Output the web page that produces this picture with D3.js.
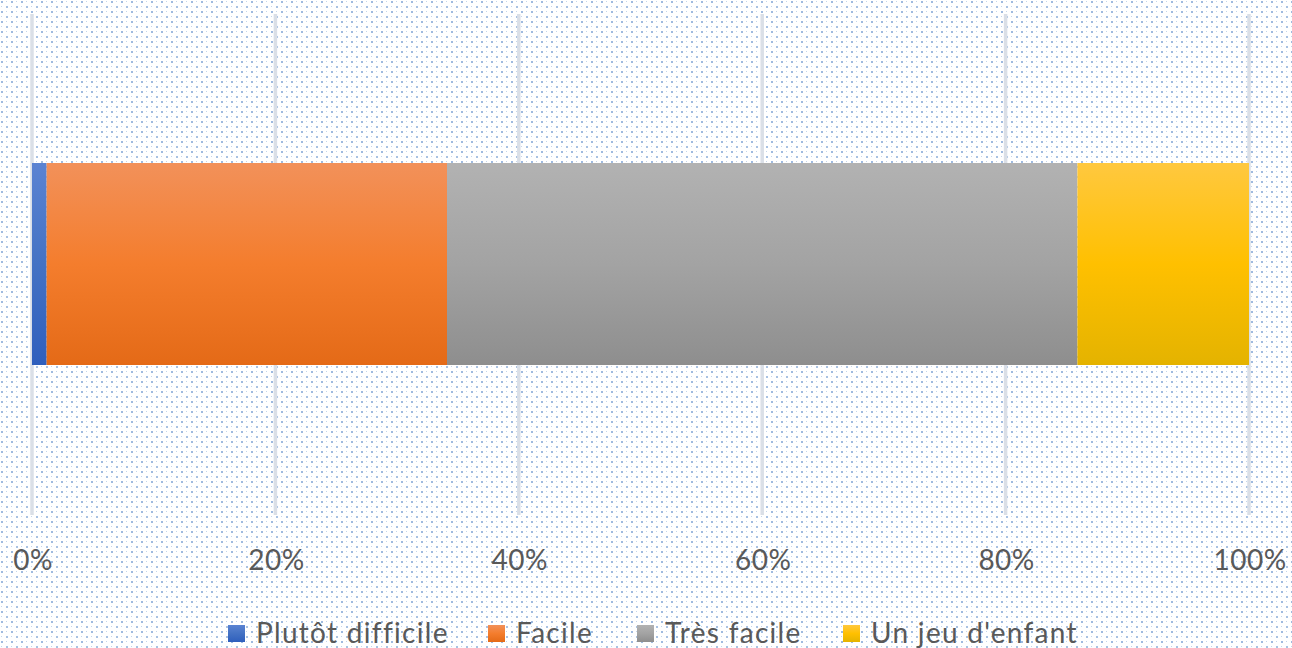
<!DOCTYPE html>
<html><head><meta charset="utf-8">
<script src="https://cdn.jsdelivr.net/npm/d3@7/dist/d3.min.js"></script>
<style>html,body{margin:0;padding:0;background:#fff;overflow:hidden}</style>
</head><body>
<svg id="c" width="1292" height="648"></svg>
<script>
const categories = ["Plutôt difficile", "Facile", "Très facile", "Un jeu d'enfant"];
const values = [1.2, 32.9, 51.8, 14.1];
const tickValues = [0, 20, 40, 60, 80, 100];
const tickLabels = ["0%", "20%", "40%", "60%", "80%", "100%"];
const colors = [
  ["#5b83d2", "#4472c4", "#2f5fbd"],
  ["#f2915a", "#f47d2d", "#e46a17"],
  ["#b2b2b2", "#a3a3a3", "#8e8e8e"],
  ["#ffc83f", "#ffc000", "#e4b300"]
];

const W = 1292, H = 648;
const svg = d3.select("#c");
const defs = svg.append("defs");

// dotted background
const pat = defs.append("pattern").attr("id","dots").attr("patternUnits","userSpaceOnUse")
  .attr("width", 10).attr("height", 10);
pat.append("rect").attr("width",10).attr("height",10).attr("fill","#ffffff");
pat.append("rect").attr("x",1).attr("y",1).attr("width",2).attr("height",2).attr("fill","#9fbadf");
pat.append("rect").attr("x",6).attr("y",6).attr("width",2).attr("height",2).attr("fill","#aac2e3");
pat.append("rect").attr("x",6).attr("y",1).attr("width",1).attr("height",1).attr("fill","#c3d4ea");
pat.append("rect").attr("x",1).attr("y",6).attr("width",1).attr("height",1).attr("fill","#c3d4ea");
svg.append("rect").attr("width",W).attr("height",H).attr("fill","url(#dots)");

colors.forEach((c,i)=>{
  const g = defs.append("linearGradient").attr("id","g"+i).attr("x1",0).attr("y1",0).attr("x2",0).attr("y2",1);
  g.append("stop").attr("offset","0%").attr("stop-color",c[0]);
  g.append("stop").attr("offset","50%").attr("stop-color",c[1]);
  g.append("stop").attr("offset","100%").attr("stop-color",c[2]);
});

const x = d3.scaleLinear().domain([0,100]).range([32, 1249]);

// gridlines
svg.append("g").selectAll("line").data(tickValues).join("line")
  .attr("x1", d=>x(d)).attr("x2", d=>x(d)).attr("y1", 14).attr("y2", 515)
  .attr("stroke", "#dadfe7").attr("stroke-width", 3.5);

// bars
let cum = 0;
const segs = values.map((v,i)=>{ const s = {i, x0: cum, x1: cum+v}; cum += v; return s; });
const barY = 163, barH = 202;
svg.append("g").selectAll("rect").data(segs).join("rect")
  .attr("x", d=>x(d.x0)).attr("width", d=>x(d.x1)-x(d.x0))
  .attr("y", barY).attr("height", barH)
  .attr("fill", d=>"url(#g"+d.i+")");

// tick labels
const font = "Lato, 'Open Sans', sans-serif";
svg.append("g").selectAll("text").data(tickValues).join("text")
  .attr("x", d=>x(d)+1).attr("y", 570)
  .attr("text-anchor","middle")
  .attr("font-family", font).attr("font-size", 28)
  .attr("letter-spacing", 0.5)
  .attr("fill", "#595959")
  .text((d,i)=>tickLabels[i]);

// legend
const legX = [228, 488, 637, 843];
const lg = svg.append("g").selectAll("g").data(categories).join("g")
  .attr("transform", (d,i)=>`translate(${legX[i]},0)`);
lg.append("rect").attr("x",0).attr("y",625).attr("width",17).attr("height",17)
  .attr("fill",(d,i)=>"url(#g"+i+")");
lg.append("text").attr("x",28).attr("y",643)
  .attr("font-family", font).attr("font-size", 28).attr("fill","#595959")
  .attr("letter-spacing", 1.3)
  .text(d=>d);
</script>
</body></html>
